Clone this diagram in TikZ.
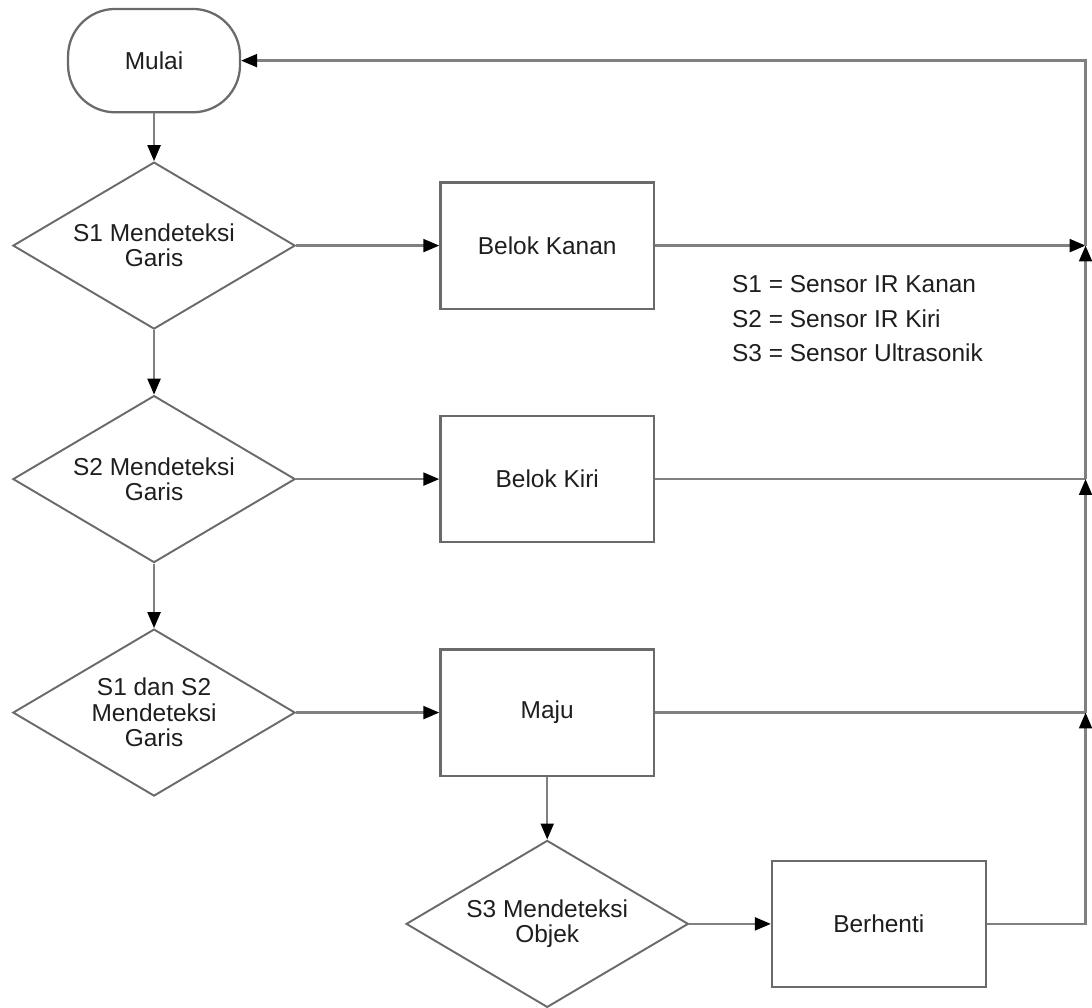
\documentclass[tikz,border=0pt]{standalone}
\usepackage{fontspec}
\setmainfont{Liberation Sans}
\usetikzlibrary{arrows.meta,positioning,shapes.geometric,calc}
\definecolor{Edge}{HTML}{6A6A6A}
\definecolor{Wire}{HTML}{808080}
\definecolor{Ink}{HTML}{1E1E1E}
\tikzset{
  every node/.append style={text=Ink, font=\fontsize{14}{14.5}\selectfont},
  term/.style={draw=Edge, line width=1.3pt, rounded corners=9.5mm, align=center,
               minimum width=34.6mm, minimum height=20.8mm},
  box/.style={draw=Edge, line width=1.3pt, align=center,
              minimum width=43mm, minimum height=25.4mm},
  cond/.style={draw=Edge, line width=1.1pt, diamond, shape aspect=1.7, align=center,
               minimum width=56.8mm, minimum height=33.6mm, inner sep=0pt},
  wire/.style={line width=1.3pt, draw=Wire},
  arrow/.style={wire, -{Triangle[length=3.2mm,width=2.6mm,color=black]}},
  legend/.style={anchor=west, inner sep=0pt},
}
\begin{document}
\begin{tikzpicture}[node distance=13mm and 28.8mm]
  \node[term] (mulai) {Mulai};
  \node[cond, below=9.6mm of mulai] (s1) {S1 Mendeteksi\\Garis};
  \node[cond, below=of s1] (s2) {S2 Mendeteksi\\Garis};
  \node[cond, below=of s2] (s12) {S1 dan S2\\Mendeteksi\\Garis};
  \node[box, right=of s1] (kanan) {Belok Kanan};
  \node[box, right=of s2] (kiri) {Belok Kiri};
  \node[box, right=of s12] (maju) {Maju};
  \node[cond, below=12.6mm of maju] (s3) {S3 Mendeteksi\\Objek};
  \node[box, right=16.4mm of s3] (henti) {Berhenti};
  \node[legend] (leg1) at ($(kanan.east)+(1.54,-0.78)$) {S1 = Sensor IR Kanan};
  \node[legend] (leg2) at ([yshift=-6.9mm]leg1.west) {S2 = Sensor IR Kiri};
  \node[legend] (leg3) at ([yshift=-6.9mm]leg2.west) {S3 = Sensor Ultrasonik};
  \coordinate (r1) at ($(kanan.east)+(8.66,0)$);
  \coordinate (r2) at (r1 |- kiri.east);
  \coordinate (r3) at (r1 |- maju.east);
  \coordinate (r4) at (r1 |- henti.east);
  \coordinate (r0) at (r1 |- mulai.east);
  \draw[arrow] (mulai) -- (s1);
  \draw[arrow] (s1) -- (s2);
  \draw[arrow] (s2) -- (s12);
  \draw[arrow] (s1) -- (kanan);
  \draw[arrow] (s2) -- (kiri);
  \draw[arrow] (s12) -- (maju);
  \draw[arrow] (maju) -- (s3);
  \draw[arrow] (s3) -- (henti);
  \draw[arrow] (kanan) -- (r1);
  \draw[wire] (kiri) -- (r2);
  \draw[wire] (maju) -- (r3);
  \draw[arrow] (henti) -- (r4) -- (r3);
  \draw[arrow] (r3) -- (r2);
  \draw[arrow] (r2) -- (r1);
  \draw[arrow] (r1) -- (r0) -- (mulai);
  \useasboundingbox ($(mulai.center)+(-3.1,1.22)$) rectangle +(21.84,-20.16);
\end{tikzpicture}
\end{document}
